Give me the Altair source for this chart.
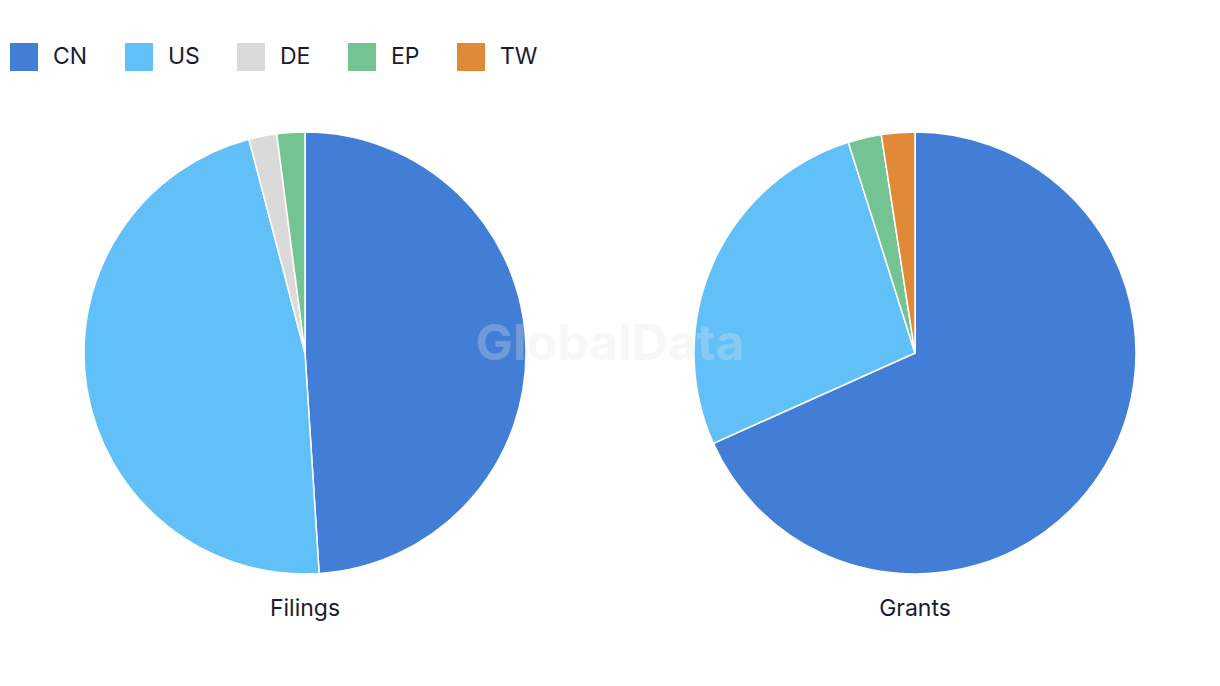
import altair as alt
import pandas as pd

codes = ["CN", "US", "DE", "EP", "TW"]
colors = ["#427ED6", "#62C0F9", "#DADADA", "#74C493", "#E08A38"]

filings_codes = ["CN", "US", "DE", "EP"]
filings_values = [24, 23, 1, 1]
grants_codes = ["CN", "US", "EP", "TW"]
grants_values = [28, 11, 1, 1]

panels = ["Filings", "Grants"]

rows = []
for c, v in zip(filings_codes, filings_values):
    rows.append({"panel": "Filings", "code": c, "value": v, "idx": codes.index(c)})
for c, v in zip(grants_codes, grants_values):
    rows.append({"panel": "Grants", "code": c, "value": v, "idx": codes.index(c)})
df = pd.DataFrame(rows)

FONT = "Inter"
TEXT = "#1b1b2f"

color = alt.Color(
    "code:N",
    scale=alt.Scale(domain=codes, range=colors),
    legend=alt.Legend(
        title=None,
        orient="none",
        legendX=10,
        legendY=43,
        direction="horizontal",
        symbolType="square",
        symbolSize=784,
        symbolStrokeWidth=0,
        labelFontSize=23,
        labelFont=FONT,
        labelColor=TEXT,
        labelOffset=15,
        columnPadding=37,
        symbolOpacity=1,
    ),
)

def pie(name, cx):
    return (
        alt.Chart(df)
        .transform_filter(alt.datum.panel == name)
        .mark_arc(outerRadius=221, stroke="white", strokeWidth=1.5)
        .encode(
            theta=alt.Theta("value:Q", stack=True),
            color=color,
            order=alt.Order("idx:Q"),
            x=alt.value(cx),
            y=alt.value(353),
        )
    )

title_df = pd.DataFrame({"label": panels, "px": [305, 915]})
titles = (
    alt.Chart(title_df)
    .mark_text(font=FONT, fontSize=23, color=TEXT, baseline="middle", align="center")
    .encode(x=alt.X("px:Q", scale=None), y=alt.value(609), text="label:N")
)

wm = (
    alt.Chart(pd.DataFrame({"t": ["GlobalData"]}))
    .mark_text(font=FONT, fontSize=50, fontWeight="bold", color="#e6e6e6", opacity=0.28,
               align="center", baseline="middle")
    .encode(x=alt.value(610), y=alt.value(345), text="t:N")
)

chart = (
    alt.layer(pie("Filings", 305), pie("Grants", 915), titles, wm)
    .resolve_scale(theta="independent")
    .properties(width=1220, height=686, padding=0, autosize=alt.AutoSizeParams(type="none"), background="white")
    .configure_view(stroke=None)
)

chart.save("out.html", embed_options={"renderer": "svg", "actions": False})
